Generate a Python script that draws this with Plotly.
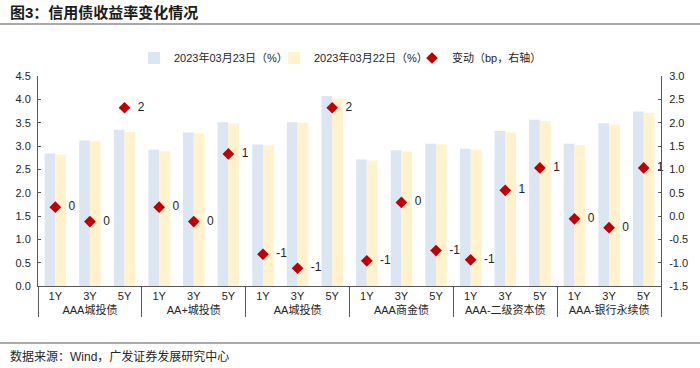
import plotly.graph_objects as go

groups = ["AAA城投债", "AA+城投债", "AA城投债", "AAA商金债", "AAA-二级资本债", "AAA-银行永续债"]
tenors = ["1Y", "3Y", "5Y"]

yield_0323 = [2.84, 3.12, 3.35, 2.92, 3.29, 3.51, 3.03, 3.51, 4.07,
              2.71, 2.91, 3.05, 2.94, 3.32, 3.56, 3.05, 3.49, 3.74]
yield_0322 = [2.81, 3.10, 3.30, 2.89, 3.27, 3.48, 3.01, 3.50, 4.02,
              2.69, 2.88, 3.03, 2.92, 3.29, 3.53, 3.02, 3.46, 3.71]
change_bp = [0.19, -0.12, 2.32, 0.19, -0.12, 1.33, -0.82, -1.12, 2.32,
             -0.96, 0.29, -0.74, -0.94, 0.55, 1.03, -0.06, -0.25, 1.03]

left_ticks = [0.0, 0.5, 1.0, 1.5, 2.0, 2.5, 3.0, 3.5, 4.0, 4.5]
right_ticks = [-1.5, -1.0, -0.5, 0.0, 0.5, 1.0, 1.5, 2.0, 2.5, 3.0]

x_lvl1 = [g for g in groups for _ in tenors]
x_lvl2 = [t for _ in groups for t in tenors]
x_multi = [x_lvl1, x_lvl2]

FONT = "Arial, Liberation Sans, Noto Sans CJK SC, sans-serif"
AX = "#595959"
TXT = "#262626"
W, H = 700, 368

fig = go.Figure()
fig.add_trace(go.Bar(x=x_multi, y=yield_0323, name="2023年03月23日（%）", legend="legend",
                     marker=dict(color="#DCE6F2", line=dict(width=0))))
fig.add_trace(go.Bar(x=x_multi, y=yield_0322, name="2023年03月22日（%）", legend="legend2",
                     marker=dict(color="#FFF2CC", line=dict(width=0))))
fig.add_trace(go.Scatter(x=x_multi, y=change_bp, name="变动（bp，右轴）", yaxis="y2",
                         legend="legend3", mode="markers+text",
                         marker=dict(symbol="diamond", size=9, color="#C00000"),
                         text=["\u00a0\u00a0" + f"{round(v):.0f}" for v in change_bp],
                         textposition="middle right",
                         textfont=dict(size=12, color=TXT, family=FONT),
                         cliponaxis=False))

def leg(xpx):
    return dict(orientation="h", xref="container", yref="container",
                x=xpx / W, xanchor="left", y=1 - 58 / H, yanchor="middle",
                font=dict(size=11, color=TXT), bgcolor="rgba(0,0,0,0)",
                itemwidth=30, borderwidth=0)

fig.update_layout(
    width=W, height=H,
    margin=dict(l=38, r=39, t=76, b=82, autoexpand=False),
    paper_bgcolor="white", plot_bgcolor="white",
    font=dict(family=FONT, size=11, color=TXT),
    barmode="group", bargap=0.38, bargroupgap=0,
    showlegend=True,
    legend=leg(134), legend2=leg(274), legend3=leg(412),
    xaxis=dict(type="multicategory", range=[-0.5, 17.5], autorange=False,
               showline=True, linecolor=AX, linewidth=1,
               ticks="outside", ticklen=9, tickcolor="rgba(0,0,0,0)",
               showgrid=False, showdividers=True, dividercolor=AX,
               dividerwidth=1, tickfont=dict(size=11, color=TXT), automargin=False),
    yaxis=dict(range=[0, 4.5], tickvals=left_ticks, ticktext=[f"{v:.1f}" for v in left_ticks],
               showline=True, linecolor=AX, linewidth=1, ticks="inside", ticklen=3,
               tickcolor=AX, showgrid=False, zeroline=False, automargin=False,
               tickfont=dict(size=11, color=TXT), ticklabelstandoff=4),
    yaxis2=dict(range=[-1.5, 3.0], tickvals=right_ticks, ticktext=[f"{v:.1f}" for v in right_ticks],
                overlaying="y", side="right", showline=True, linecolor=AX, linewidth=1,
                ticks="inside", ticklen=3, tickcolor=AX, showgrid=False, zeroline=False,
                automargin=False, tickfont=dict(size=11, color=TXT), ticklabelstandoff=5),
)

fig.add_annotation(text="<b>图3：信用债收益率变化情况</b>", xref="paper", yref="paper",
                   x=-30/623, y=1 + (76-13)/210, xanchor="left", yanchor="middle",
                   showarrow=False, font=dict(size=15, color="#1a1a1a", family=FONT))
fig.add_annotation(text="数据来源：Wind，广发证券发展研究中心", xref="paper", yref="paper",
                   x=-30/623, y=-(356-286)/210, xanchor="left", yanchor="middle",
                   showarrow=False, font=dict(size=12, color=TXT, family=FONT))
fig.add_shape(type="line", xref="paper", yref="paper", x0=-38/623, x1=662/623,
              y0=1 + (76-24)/210, y1=1 + (76-24)/210, line=dict(color="#8c8c8c", width=1.5))
fig.add_shape(type="line", xref="paper", yref="paper", x0=-38/623, x1=662/623,
              y0=-(343-286)/210, y1=-(343-286)/210, line=dict(color="#8c8c8c", width=1.5))

fig.write_html("out.html", config={"displayModeBar": False},
               post_script="document.body.style.margin='0';")
